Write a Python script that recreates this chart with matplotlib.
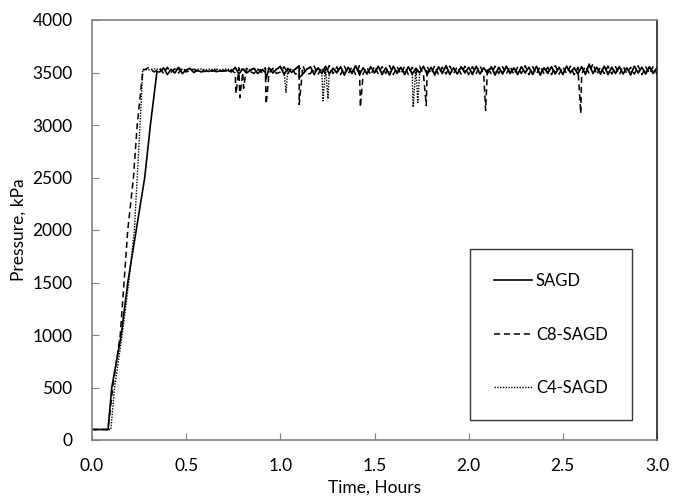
import numpy as np
import matplotlib
matplotlib.use("Agg")
import matplotlib.pyplot as plt

plt.rcParams['font.family'] = ['Lato', 'DejaVu Sans']

# ---------------- data ----------------
# ramp-up phase (time in hours, pressure in kPa)
sagd_ramp_t = [0.0, 0.085, 0.105, 0.155, 0.19, 0.235, 0.28, 0.31, 0.345]
sagd_ramp_p = [100, 100, 500, 1000, 1500, 2000, 2500, 3000, 3510]
c8_ramp_t = [0.0, 0.085, 0.11, 0.15, 0.17, 0.19, 0.22, 0.24, 0.27, 0.30, 0.33]
c8_ramp_p = [100, 100, 500, 1000, 1500, 2000, 2500, 3000, 3520, 3545, 3505]
c4_ramp_t = [0.0, 0.10, 0.12, 0.16, 0.195, 0.225, 0.24, 0.255, 0.27, 0.30, 0.33]
c4_ramp_p = [100, 100, 500, 1000, 1500, 2000, 2500, 3000, 3530, 3525, 3535]

# plateau phase, sampled every 0.02 h starting at 0.36 h
plateau_start = 0.36
plateau_step = 0.02
sagd_plateau = [
    3505, 3545, 3480, 3530, 3495, 3550, 3490, 3525, 3540, 3500,
    3520, 3505, 3515, 3510, 3522, 3508, 3515, 3512, 3520, 3505,
    3550, 3485, 3535, 3495, 3520, 3540, 3490, 3525, 3505, 3545,
    3495, 3530, 3560, 3480, 3540, 3500, 3535, 3565, 3485, 3530,
    3555, 3480, 3545, 3490, 3560, 3485, 3540, 3495, 3555, 3475,
    3550, 3490, 3565, 3480, 3545, 3485, 3555, 3495, 3560, 3480,
    3545, 3475, 3560, 3490, 3550, 3480, 3555, 3485, 3540, 3495,
    3560, 3480, 3550, 3475, 3555, 3490, 3565, 3480, 3545, 3485,
    3555, 3495, 3550, 3480, 3560, 3485, 3545, 3490, 3555, 3475,
    3550, 3485, 3560, 3490, 3545, 3480, 3555, 3495, 3550, 3480,
    3560, 3475, 3545, 3490, 3555, 3485, 3550, 3480, 3560, 3495,
    3545, 3485, 3555, 3480, 3580, 3490, 3550, 3485, 3560, 3480,
    3550, 3490, 3555, 3485, 3545, 3475, 3560, 3495, 3550, 3485,
    3555, 3490, 3545, 3505,
]
c8_plateau = [
    3540, 3490, 3550, 3500, 3535, 3495, 3545, 3505, 3520, 3530,
    3515, 3525, 3508, 3522, 3512, 3525, 3510, 3520, 3515, 3522,
    3495, 3545, 3500, 3540, 3510, 3490, 3535, 3500, 3545, 3495,
    3540, 3490, 3505, 3555, 3490, 3545, 3485, 3500, 3560, 3485,
    3490, 3560, 3480, 3550, 3485, 3565, 3490, 3555, 3480, 3560,
    3485, 3555, 3480, 3565, 3490, 3550, 3475, 3560, 3485, 3555,
    3490, 3565, 3480, 3555, 3485, 3560, 3480, 3550, 3490, 3560,
    3480, 3555, 3490, 3565, 3480, 3550, 3485, 3560, 3490, 3555,
    3485, 3560, 3480, 3555, 3490, 3565, 3480, 3550, 3485, 3560,
    3490, 3555, 3485, 3560, 3480, 3550, 3490, 3565, 3480, 3555,
    3485, 3560, 3490, 3550, 3480, 3565, 3485, 3555, 3490, 3560,
    3480, 3550, 3485, 3560, 3490, 3585, 3480, 3555, 3490, 3560,
    3485, 3555, 3480, 3560, 3490, 3550, 3485, 3565, 3480, 3555,
    3490, 3560, 3485, 3520,
]
c4_plateau = [
    3530, 3526, 3536, 3524, 3532, 3528, 3531, 3525, 3534, 3528,
    3530, 3533, 3526, 3531, 3528, 3534, 3527, 3530, 3533, 3526,
    3538, 3520, 3534, 3524, 3530, 3536, 3522, 3531, 3527, 3538,
    3518, 3534, 3545, 3510, 3538, 3518, 3534, 3550, 3510, 3532,
    3548, 3505, 3542, 3512, 3552, 3505, 3540, 3512, 3548, 3500,
    3545, 3505, 3555, 3500, 3540, 3495, 3548, 3508, 3552, 3500,
    3540, 3495, 3555, 3505, 3545, 3500, 3548, 3495, 3540, 3510,
    3555, 3500, 3545, 3495, 3548, 3505, 3558, 3500, 3540, 3495,
    3548, 3510, 3545, 3495, 3555, 3500, 3540, 3505, 3548, 3495,
    3545, 3500, 3555, 3505, 3540, 3495, 3548, 3510, 3545, 3500,
    3555, 3495, 3540, 3505, 3548, 3500, 3545, 3495, 3555, 3510,
    3540, 3500, 3548, 3495, 3565, 3505, 3545, 3500, 3555, 3495,
    3545, 3505, 3548, 3500, 3540, 3495, 3555, 3510, 3545, 3500,
    3548, 3505, 3540, 3515,
]

# short pressure dips (time, minimum pressure)
c8_dip_t = [0.765, 0.785, 0.805, 0.925, 1.10, 1.425, 1.775, 2.09, 2.595]
c8_dip_p = [3300, 3260, 3350, 3200, 3195, 3170, 3185, 3140, 3110]
c4_dip_t = [1.03, 1.227, 1.253, 1.705, 1.73]
c4_dip_p = [3310, 3230, 3250, 3170, 3215]
sagd_dip_t = [0.925, 1.10]
sagd_dip_p = [3440, 3450]

labels = ['SAGD', 'C8-SAGD', 'C4-SAGD']


def build(ramp_t, ramp_p, plateau, dip_t, dip_p):
    pt = plateau_start + plateau_step * np.arange(len(plateau))
    t = np.concatenate([ramp_t, pt, dip_t])
    p = np.concatenate([ramp_p, plateau, dip_p])
    order = np.argsort(t, kind='stable')
    return t[order], p[order]


series = [
    build(sagd_ramp_t, sagd_ramp_p, sagd_plateau, sagd_dip_t, sagd_dip_p),
    build(c8_ramp_t, c8_ramp_p, c8_plateau, c8_dip_t, c8_dip_p),
    build(c4_ramp_t, c4_ramp_p, c4_plateau, c4_dip_t, c4_dip_p),
]
styles = [
    dict(linestyle='-', linewidth=1.2),
    dict(linestyle=(0, (4, 2.5)), linewidth=1.1),
    dict(linestyle=(0, (1, 1)), linewidth=1.0),
]

# ---------------- figure ----------------
fig = plt.figure(figsize=(6.73, 4.97), dpi=100)
ax = fig.add_axes([92 / 673, 1 - 440 / 497, 565 / 673, 420 / 497])

for (t, p), lab, st in zip(series, labels, styles):
    ax.plot(t, p, color='black', label=lab, **st)

ax.set_xlim(0, 3.0)
ax.set_ylim(0, 4000)
ax.set_xticks(np.arange(0, 3.01, 0.5))
ax.set_xticklabels([f"{v:.1f}" for v in np.arange(0, 3.01, 0.5)])
ax.set_yticks(np.arange(0, 4001, 500))
ax.tick_params(direction='in', length=5, width=0.8, color='#808080',
               labelsize=12.5)
ax.tick_params(axis='y', pad=14)
ax.tick_params(axis='x', pad=13)
ax.set_xlabel('Time, Hours', fontsize=12.5, labelpad=4)
ax.set_ylabel('Pressure, kPa', fontsize=12.5, labelpad=4)

for s in ['left', 'bottom', 'top']:
    ax.spines[s].set_color('#808080')
    ax.spines[s].set_linewidth(1.2)
ax.spines['right'].set_color('#222222')
ax.spines['right'].set_linewidth(1.2)

leg = ax.legend(loc='upper left', bbox_to_anchor=(0.669, 0.455),
                frameon=True, fancybox=False, edgecolor='#333333',
                framealpha=1, fontsize=12, handlelength=2.3,
                handletextpad=0.2, labelspacing=2.25, borderpad=1.45,
                borderaxespad=0)
leg.get_frame().set_linewidth(1.0)

fig.savefig('out.png', dpi=100)
